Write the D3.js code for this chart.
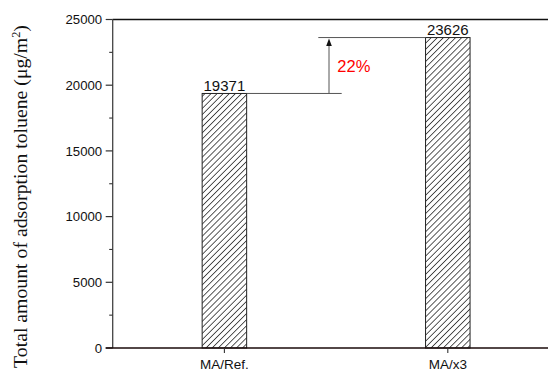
<!DOCTYPE html>
<html>
<head>
<meta charset="utf-8">
<script src="https://cdn.jsdelivr.net/npm/d3@7/dist/d3.min.js"></script>
<style>
  html, body { margin: 0; padding: 0; background: #fff; }
  svg { display: block; }
</style>
</head>
<body>
<svg id="chart" width="548" height="373"></svg>
<script>
// Adsorbed toluene per sample
const categories = ["MA/Ref.", "MA/x3"];
const values = [19371, 23626];
const yTicks = [0, 5000, 10000, 15000, 20000, 25000];
const yMinorTicks = [2500, 7500, 12500, 17500, 22500];
const increaseLabel = "22%";

const margin = { left: 112.7, top: 19.5 };
const plotRight = 559.5; // frame continues past the window edge
const svg = d3.select("#chart");
const sans = "'Liberation Sans', Arial, sans-serif";

const x = d3.scalePoint().domain(categories).range([margin.left, plotRight]).padding(0.5);
const y = d3.scaleLinear().domain([0, 25000]).range([348, margin.top]);
const barW = 44.5;

// hatch pattern for bars
const step = 4.3;
const defs = svg.append("defs");
const pat = defs.append("pattern")
  .attr("id", "hatch").attr("patternUnits", "userSpaceOnUse")
  .attr("width", step).attr("height", step)
  .attr("patternTransform", "rotate(45)");
pat.append("rect").attr("width", step).attr("height", step).attr("fill", "#fff");
pat.append("line").attr("x1", 0).attr("y1", 0).attr("x2", 0).attr("y2", step)
  .attr("stroke", "#000").attr("stroke-width", 1.3);

// bars
svg.selectAll("rect.bar").data(values).enter().append("rect")
  .attr("class", "bar")
  .attr("x", (d, i) => x(categories[i]) - barW / 2)
  .attr("y", d => y(d))
  .attr("width", barW)
  .attr("height", d => y(0) - y(d))
  .attr("fill", "url(#hatch)")
  .attr("stroke", "#222").attr("stroke-width", 1);

// value labels
svg.selectAll("text.val").data(values).enter().append("text")
  .attr("class", "val")
  .attr("x", (d, i) => x(categories[i]))
  .attr("y", d => y(d) - 2.6)
  .attr("text-anchor", "middle")
  .attr("font-family", sans)
  .attr("font-size", 15)
  .attr("fill", "#111")
  .text(d => d);

// reference lines and arrow showing the increase
const x0 = x(categories[0]) + barW / 2;
const x1 = x(categories[1]) - barW / 2;
const arrowX = 329;
svg.append("line").attr("x1", x0).attr("x2", 341.7)
  .attr("y1", y(values[0])).attr("y2", y(values[0]))
  .attr("stroke", "#555").attr("stroke-width", 1);
svg.append("line").attr("x1", 318.3).attr("x2", x1)
  .attr("y1", y(values[1])).attr("y2", y(values[1]))
  .attr("stroke", "#555").attr("stroke-width", 1);
svg.append("line").attr("x1", arrowX).attr("x2", arrowX)
  .attr("y1", y(values[0])).attr("y2", y(values[1]) + 6)
  .attr("stroke", "#555").attr("stroke-width", 1);
svg.append("path")
  .attr("d", `M${arrowX},${y(values[1]) + 1} L${arrowX - 2.8},${y(values[1]) + 8.5} L${arrowX + 2.8},${y(values[1]) + 8.5} Z`)
  .attr("fill", "#111");
svg.append("text")
  .attr("x", 337.3).attr("y", 71.7)
  .attr("font-family", sans)
  .attr("font-size", 16.5)
  .attr("fill", "#ff0000")
  .text(increaseLabel);

// frame: top line
svg.append("line").attr("x1", margin.left).attr("x2", plotRight)
  .attr("y1", y(25000)).attr("y2", y(25000))
  .attr("stroke", "#111").attr("stroke-width", 1.3);

// y axis
const yAxis = svg.append("g").attr("transform", `translate(${margin.left},0)`);
yAxis.append("line").attr("x1", 0).attr("x2", 0).attr("y1", y(0)).attr("y2", y(25000))
  .attr("stroke", "#444").attr("stroke-width", 1.3);
yAxis.selectAll("line.major").data(yTicks).enter().append("line")
  .attr("x1", -7).attr("x2", 0).attr("y1", d => y(d)).attr("y2", d => y(d))
  .attr("stroke", "#333").attr("stroke-width", 1.2);
yAxis.selectAll("line.minor").data(yMinorTicks).enter().append("line")
  .attr("x1", -3.5).attr("x2", 0).attr("y1", d => y(d)).attr("y2", d => y(d))
  .attr("stroke", "#333").attr("stroke-width", 1.1);
yAxis.selectAll("text").data(yTicks).enter().append("text")
  .attr("x", -10.5).attr("y", d => y(d)).attr("dy", "0.36em")
  .attr("text-anchor", "end")
  .attr("font-family", sans)
  .attr("font-size", 13.2).attr("fill", "#111")
  .text(d => d);

// x axis
const xAxis = svg.append("g").attr("transform", `translate(0,${y(0)})`);
xAxis.append("line").attr("x1", margin.left - 7).attr("x2", plotRight)
  .attr("y1", 0).attr("y2", 0).attr("stroke", "#1a0a0a").attr("stroke-width", 1.4);
xAxis.selectAll("line.tick").data(categories).enter().append("line")
  .attr("x1", d => x(d)).attr("x2", d => x(d)).attr("y1", 0).attr("y2", 5)
  .attr("stroke", "#333").attr("stroke-width", 1.1);
xAxis.selectAll("text").data(categories).enter().append("text")
  .attr("x", d => x(d)).attr("y", 20.5)
  .attr("text-anchor", "middle")
  .attr("font-family", sans)
  .attr("font-size", 13.5).attr("fill", "#111")
  .text(d => d);

// y axis title
const title = svg.append("text")
  .attr("transform", `translate(27,196.5) rotate(-90)`)
  .attr("text-anchor", "middle")
  .attr("font-family", "'Liberation Serif', 'Times New Roman', serif")
  .attr("font-size", 16)
  .attr("fill", "#111");
title.append("tspan").text("Total amount of adsorption toluene (\u03bcg/m");
title.append("tspan").attr("dy", -6).attr("font-size", 10).text("2");
title.append("tspan").attr("dy", 6).text(")");
// scale the title so it spans the full plot height
const len = title.node().getComputedTextLength();
const fs = 16 * 343 / len;
title.attr("font-size", fs);
title.selectAll("tspan").filter((d, i) => i === 1).attr("font-size", fs * 0.62).attr("dy", -fs * 0.38);
title.selectAll("tspan").filter((d, i) => i === 2).attr("dy", fs * 0.38);
</script>
</body>
</html>
